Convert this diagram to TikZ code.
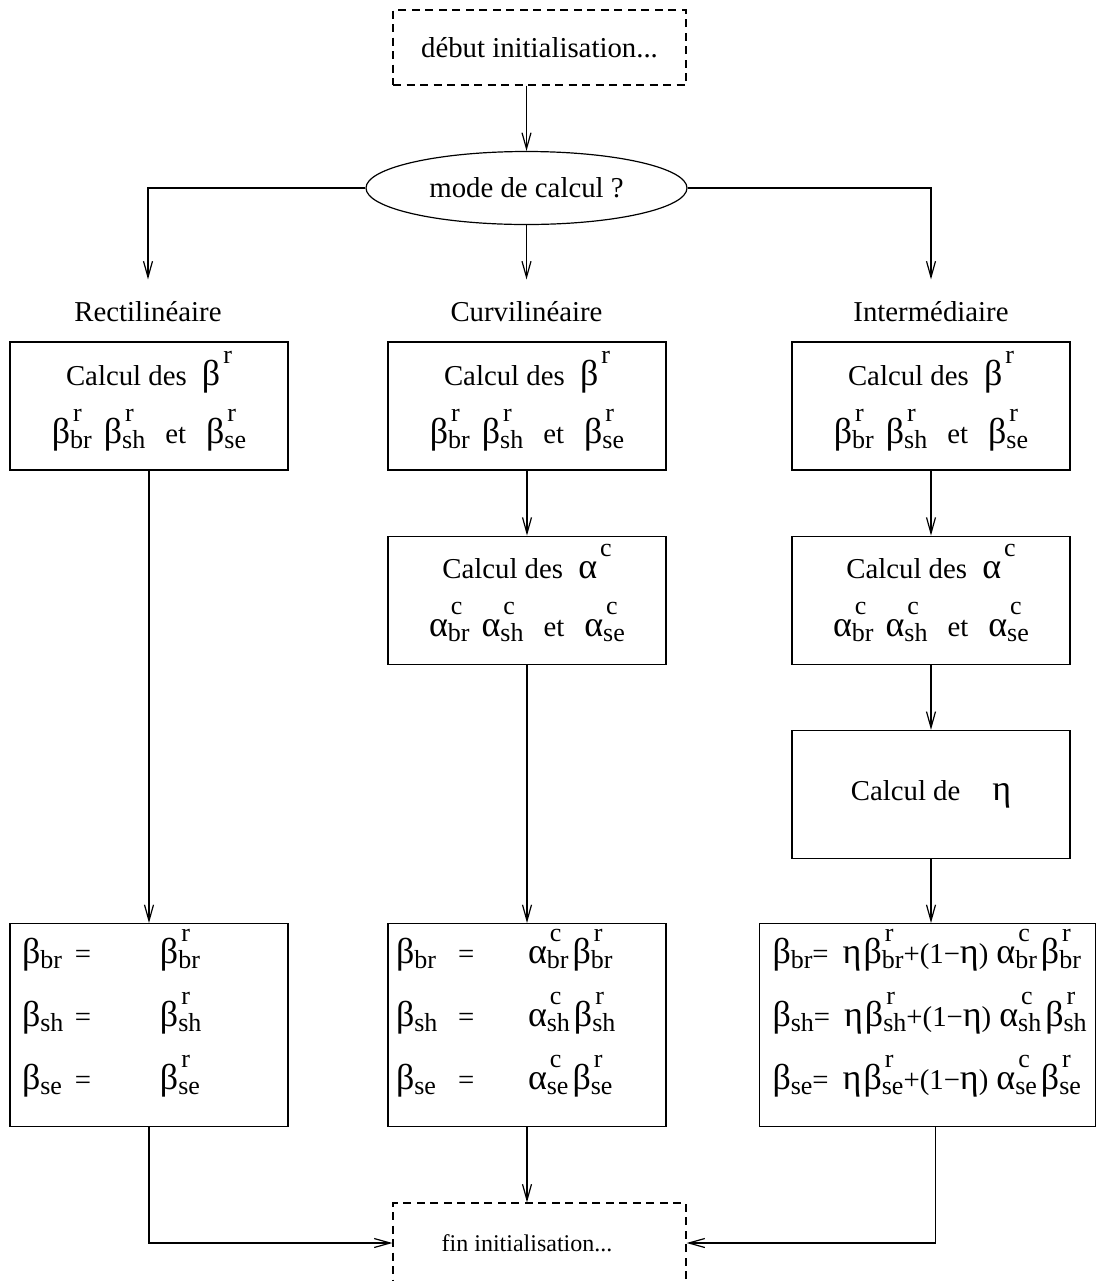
\documentclass[tikz,border=0pt]{standalone}
\usepackage{fontspec}
\setmainfont{Liberation Serif}
\usetikzlibrary{arrows.meta,positioning,shapes.geometric}

% greek letter with sub- and superscript
\newcommand{\gk}[1]{{\fontsize{18}{18}\selectfont #1}}
\newcommand{\gsub}[3]{\gk{#1}{\fontsize{13}{13}\selectfont\rlap{\smash{\raisebox{11pt}{\kern1.5pt#3}}}\raisebox{-2.5pt}{#2}}}
\newcommand{\gsup}[2]{\gk{#1}{\fontsize{13}{13}\selectfont\smash{\raisebox{11pt}{\kern1.5pt#2}}}}
\newcommand{\lowstrut}{\rule[-11pt]{0pt}{1pt}}

\begin{document}
\begin{tikzpicture}[
  x=0.5pt, y=-0.5pt,
  line width=0.6pt,
  font=\fontsize{14.4}{17}\selectfont,
  calc/.style={draw, align=center, minimum width=139pt, minimum height=64pt, font=\fontsize{14.4}{29}\selectfont},
  res/.style={draw, align=left, minimum height=101.5pt, font=\fontsize{14.4}{31.5}\selectfont},
  term/.style={draw, dashed, dash pattern=on 4pt off 2.75pt, minimum width=146.5pt},
  colhead/.style={minimum height=32pt, inner sep=0pt},
  arr/.style={-{Straight Barb[length=8pt,width=4.5pt]}}
]
\useasboundingbox (0,0) rectangle (1096,1281);

\node[term, minimum height=37.5pt] (debut) at (539.5,47.5) {début initialisation...};
\node[draw, ellipse, minimum width=160.5pt, minimum height=36.5pt, inner sep=0pt] (mode) at (526.5,188) {mode de calcul ?};

\node[colhead] (rect) at (148,312) {Rectilinéaire};
\node[colhead] (curvi) at (526.5,312) {Curvilinéaire};
\node[colhead] (inter) at (931,312) {Intermédiaire};

% premiere ligne
\node[calc] (r1) at (149,406) {Calcul des\hspace{4pt} \gsup{β}{r}\\
  \gsub{β}{br}{r}\hspace{6pt}\gsub{β}{sh}{r}\hspace{10pt}et\hspace{10pt}\gsub{β}{se}{r}};
\node[calc] (c1) at (527,406) {Calcul des\hspace{4pt} \gsup{β}{r}\\
  \gsub{β}{br}{r}\hspace{6pt}\gsub{β}{sh}{r}\hspace{10pt}et\hspace{10pt}\gsub{β}{se}{r}};
\node[calc] (i1) at (931,406) {Calcul des\hspace{4pt} \gsup{β}{r}\\
  \gsub{β}{br}{r}\hspace{6pt}\gsub{β}{sh}{r}\hspace{10pt}et\hspace{10pt}\gsub{β}{se}{r}};

% alpha et eta
\node[calc, below=32.5pt of c1] (c2) {Calcul des\hspace{4pt} \gsup{α}{c}\\
  \gsub{α}{br}{c}\hspace{6pt}\gsub{α}{sh}{c}\hspace{10pt}et\hspace{10pt}\gsub{α}{se}{c}};
\node[calc, below=32.5pt of i1] (i2) {Calcul des\hspace{4pt} \gsup{α}{c}\\
  \gsub{α}{br}{c}\hspace{6pt}\gsub{α}{sh}{c}\hspace{10pt}et\hspace{10pt}\gsub{α}{se}{c}};
\node[calc, below=32.5pt of i2] (eta) {Calcul de\hspace{16pt}\gk{η}};

% resultats
\node[res, below=32pt of eta, xshift=-1.75pt, inner xsep=6.5pt, text width=155pt] (b3) {%
  \gsub{β}{br}{}=\kern7pt\gk{η}\kern1pt\gsub{β}{br}{r}+(1−\gk{η})\kern4pt\gsub{α}{br}{c}\kern2pt\gsub{β}{br}{r}\\
  \gsub{β}{sh}{}=\kern7pt\gk{η}\kern1pt\gsub{β}{sh}{r}+(1−\gk{η})\kern4pt\gsub{α}{sh}{c}\kern2pt\gsub{β}{sh}{r}\\
  \gsub{β}{se}{}=\kern7pt\gk{η}\kern1pt\gsub{β}{se}{r}+(1−\gk{η})\kern4pt\gsub{α}{se}{c}\kern2pt\gsub{β}{se}{r}\lowstrut};
\node[res, anchor=north, inner xsep=6pt, text width=127pt] (b1) at (r1.south |- b3.north) {%
  \makebox[26.5pt][l]{\gsub{β}{br}{}}\makebox[42.5pt][l]{=}\gsub{β}{br}{r}\\
  \makebox[26.5pt][l]{\gsub{β}{sh}{}}\makebox[42.5pt][l]{=}\gsub{β}{sh}{r}\\
  \makebox[26.5pt][l]{\gsub{β}{se}{}}\makebox[42.5pt][l]{=}\gsub{β}{se}{r}\lowstrut};
\node[res, anchor=north, inner xsep=4pt, text width=131pt] (b2) at (c2.south |- b3.north) {%
  \makebox[31pt][l]{\gsub{β}{br}{}}\makebox[35pt][l]{=}\gsub{α}{br}{c}\kern2pt\gsub{β}{br}{r}\\
  \makebox[31pt][l]{\gsub{β}{sh}{}}\makebox[35pt][l]{=}\gsub{α}{sh}{c}\kern2pt\gsub{β}{sh}{r}\\
  \makebox[31pt][l]{\gsub{β}{se}{}}\makebox[35pt][l]{=}\gsub{α}{se}{c}\kern2pt\gsub{β}{se}{r}\lowstrut};

\node[term, minimum height=40pt, font=\fontsize{12}{14}\selectfont] (fin) at (539.5,1243) {fin initialisation...\hspace*{12.5pt}};

\draw[arr] (debut.south -| mode.north) -- (mode.north);
\draw[arr] (mode.west) -| (rect.north);
\draw[arr] (mode.south) -- (curvi.north);
\draw[arr] (mode.east) -| (inter.north);
\draw[arr] (r1.south) -- (b1.north);
\draw[arr] (c1.south) -- (c2.north);
\draw[arr] (c2.south) -- (b2.north);
\draw[arr] (i1.south) -- (i2.north);
\draw[arr] (i2.south) -- (eta.north);
\draw[arr] (eta.south) -- (eta.south |- b3.north);
\draw[arr] (b1.south) |- (fin.west);
\draw[arr] (b2.south) -- (b2.south |- fin.north);
\draw[arr] ([xshift=4pt]b3.south) |- (fin.east);

\end{tikzpicture}
\end{document}
